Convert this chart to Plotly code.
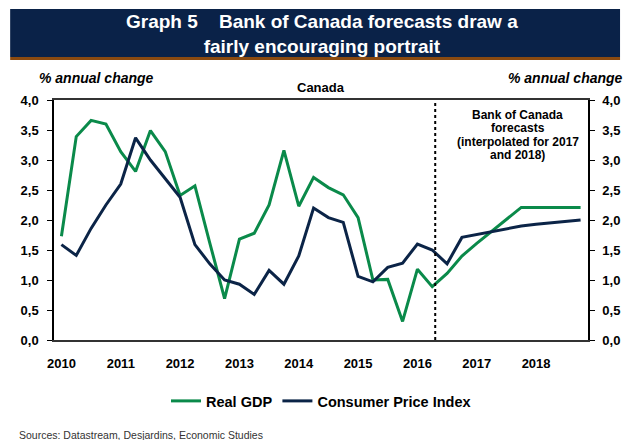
import plotly.graph_objects as go

quarters = [f"{y}Q{q}" for y in range(2010, 2019) for q in range(1, 5)]
real_gdp = [1.73, 3.39, 3.66, 3.60, 3.14, 2.81, 3.49, 3.14, 2.41, 2.57,
            1.62, 0.69, 1.68, 1.78, 2.25, 3.16, 2.23, 2.71, 2.54, 2.42,
            2.04, 1.00, 1.01, 0.31, 1.18, 0.89, 1.11, 1.40, 1.61, 1.81,
            2.01, 2.21, 2.21, 2.21, 2.21, 2.21]
cpi = [1.59, 1.41, 1.86, 2.25, 2.60, 3.37, 3.00, 2.69, 2.38, 1.59,
       1.27, 1.00, 0.93, 0.76, 1.16, 0.93, 1.40, 2.20, 2.04, 1.96,
       1.06, 0.97, 1.21, 1.28, 1.60, 1.50, 1.27, 1.71, 1.76, 1.81,
       1.85, 1.90, 1.93, 1.95, 1.98, 2.00]
year_ticks = [f"{y}Q1" for y in range(2010, 2019)]
year_labels = [str(y) for y in range(2010, 2019)]
y_ticks = [0, 0.5, 1.0, 1.5, 2.0, 2.5, 3.0, 3.5, 4.0]
y_labels = ["0,0", "0,5", "1,0", "1,5", "2,0", "2,5", "3,0", "3,5", "4,0"]
forecast_start = 25.2  # category position of the forecast start (2016Q2)
forecast_note = ["Bank of Canada", "forecasts", "(interpolated for 2017", "and 2018)"]

GREEN = "#0a8a4a"
NAVY = "#0b2447"
FONT = "Liberation Sans"

fig = go.Figure()
fig.add_trace(go.Scatter(x=quarters, y=real_gdp, mode="lines", name="Real GDP",
                         line=dict(color=GREEN, width=3)))
fig.add_trace(go.Scatter(x=quarters, y=cpi, mode="lines", name="Consumer Price Index",
                         line=dict(color=NAVY, width=3), yaxis="y2"))

fig.add_shape(type="line", xref="x", yref="y", x0=forecast_start, x1=forecast_start,
              y0=0, y1=4.0, line=dict(color="black", width=2, dash="dot"))

# banner
fig.add_shape(type="rect", xref="paper", yref="paper", x0=-0.0821, x1=1.06,
              y0=1.179, y1=1.379, fillcolor="#0a2248", line_width=0, layer="above")
fig.add_shape(type="rect", xref="paper", yref="paper", x0=-0.0821, x1=1.06,
              y0=1.1665, y1=1.179, fillcolor="#8a4a10", line_width=0, layer="above")

ann = []
ann.append(dict(text="<b>Graph 5    Bank of Canada forecasts draw a<br>fairly encouraging portrait</b>",
                xref="paper", yref="paper", x=0.502, y=1.277, xanchor="center", yanchor="middle",
                showarrow=False, font=dict(family=FONT, size=19, color="white")))
ann.append(dict(text="<b><i>% annual change</i></b>", xref="paper", yref="paper",
                x=-0.031, y=1.092, xanchor="left", yanchor="middle", showarrow=False,
                font=dict(family=FONT, size=14, color="black")))
ann.append(dict(text="<b><i>% annual change</i></b>", xref="paper", yref="paper",
                x=0.8467, y=1.092, xanchor="left", yanchor="middle", showarrow=False,
                font=dict(family=FONT, size=14, color="black")))
ann.append(dict(text="<b>Canada</b>", xref="paper", yref="paper", x=0.5, y=1.05,
                xanchor="center", yanchor="middle", showarrow=False,
                font=dict(family=FONT, size=13, color="black")))
for i, line in enumerate(forecast_note):
    ann.append(dict(text=f"<b>{line}</b>", xref="paper", yref="paper",
                    x=0.8686, y=0.938 - i * 0.0556, xanchor="center", yanchor="middle",
                    showarrow=False, font=dict(family=FONT, size=12, color="black")))
ann.append(dict(text="Sources: Datastream, Desjardins, Economic Studies", xref="paper", yref="paper",
                x=-0.0693, y=-0.396, xanchor="left", yanchor="middle", showarrow=False,
                font=dict(family=FONT, size=10.5, color="#333333")))

yaxis_common = dict(range=[0, 4.0], tickvals=y_ticks, ticktext=y_labels,
                    showgrid=False, zeroline=False, showline=True, linecolor="black",
                    linewidth=1.5, ticks="outside", ticklen=5, tickcolor="black",
                    tickfont=dict(family=FONT, size=13, color="black", weight="bold"))

fig.update_layout(
    width=632, height=440,
    margin=dict(l=54, r=30, t=100, b=100),
    paper_bgcolor="white", plot_bgcolor="white",
    showlegend=True,
    legend=dict(orientation="h", x=0.5, y=-0.254, xanchor="center", yanchor="middle",
                font=dict(family=FONT, size=14.5, color="black", weight="bold"),
                itemwidth=30, tracegroupgap=0),
    xaxis=dict(type="category", categoryorder="array", categoryarray=quarters,
               range=[-0.5, 35.5], tickvals=year_ticks, ticktext=year_labels,
               showgrid=False, showline=True, linecolor="#333333", linewidth=1.5,
               mirror=True, ticks="", ticklabelstandoff=11,
               tickfont=dict(family=FONT, size=13, color="black", weight="bold")),
    yaxis=dict(**yaxis_common, side="left", ticklabelstandoff=6),
    yaxis2=dict(**yaxis_common, side="right", overlaying="y", ticklabelstandoff=5),
    annotations=ann,
    font=dict(family=FONT),
)

fig.write_html("out.html", config={"displayModeBar": False},
               post_script="document.body.style.margin='0';document.body.style.overflow='hidden';")
